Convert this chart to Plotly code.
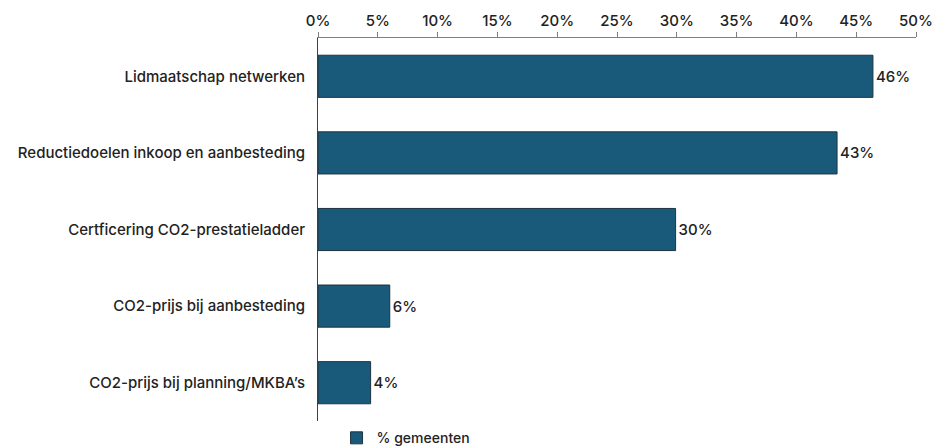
import plotly.graph_objects as go

categories = [
    "Lidmaatschap netwerken",
    "Reductiedoelen inkoop en aanbesteding",
    "Certficering CO2-prestatieladder",
    "CO2-prijs bij aanbesteding",
    "CO2-prijs bij planning/MKBA’s",
]
values = [46.4, 43.4, 29.9, 6.0, 4.4]
labels = ["46%", "43%", "30%", "6%", "4%"]
series_name = "% gemeenten"

font_family = "Inter, Noto Sans, sans-serif"
fsize = 15

fig = go.Figure()
fig.add_trace(go.Bar(
    y=categories,
    x=values,
    orientation="h",
    name=series_name,
    text=labels,
    textposition="outside",
    cliponaxis=False,
    textfont=dict(size=fsize, color="#222222", family=font_family, weight=500),
    marker=dict(color="#195a7b", line=dict(color="#1e3340", width=1)),
    showlegend=True,
))

fig.update_layout(
    width=933,
    height=448,
    margin=dict(l=318, r=17, t=38, b=27, autoexpand=False),
    paper_bgcolor="white",
    plot_bgcolor="white",
    bargap=0.45,
    font=dict(family=font_family, size=fsize, color="#222222", weight=500),
    showlegend=True,
    legend=dict(
        orientation="h",
        x=0.031, xanchor="left",
        y=-0.045, yanchor="middle",
        font=dict(size=14, color="#222222", family=font_family, weight=500),
        itemwidth=30,
    ),
    xaxis=dict(
        side="top",
        range=[0, 50],
        dtick=5,
        ticksuffix="%",
        showgrid=False,
        zeroline=False,
        showline=True,
        linecolor="#7f7f7f",
        linewidth=1,
        ticks="outside",
        ticklen=5,
        tickcolor="#7f7f7f",
        automargin=False,
        tickfont=dict(size=fsize, color="#222222", weight=500),
    ),
    yaxis=dict(
        autorange="reversed",
        showgrid=False,
        zeroline=False,
        showline=True,
        linecolor="#404040",
        linewidth=1,
        ticks="",
        ticklabelstandoff=9,
        automargin=False,
        tickfont=dict(size=fsize, color="#222222", weight=500),
    ),
)

fig.write_html(
    "out.html",
    config={"displayModeBar": False},
    post_script="document.body.style.margin='0';document.body.style.padding='0';",
)
